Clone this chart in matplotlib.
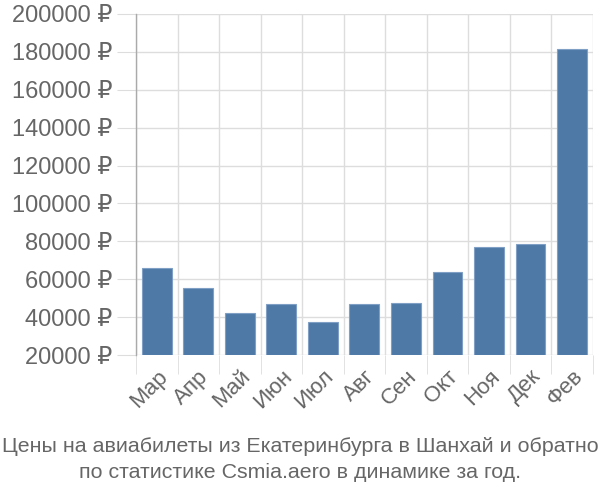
import numpy as np
import matplotlib.pyplot as plt

plt.rcParams['font.family'] = ['Liberation Sans', 'DejaVu Sans']

# Data
months = ["Мар", "Апр", "Май", "Июн", "Июл", "Авг", "Сен", "Окт", "Ноя", "Дек", "Фев"]
prices = [65700, 55300, 42300, 47000, 37400, 47000, 47600, 63600, 77100, 78600, 181400]
y_ticks = [20000, 40000, 60000, 80000, 100000, 120000, 140000, 160000, 180000, 200000]
caption = ["Цены на авиабилеты из Екатеринбурга в Шанхай и обратно",
           "по статистике Csmia.aero в динамике за год."]

text_col = "#666666"
grid_col = "#dddddd"

fig = plt.figure(figsize=(6, 5), dpi=100)
ax = fig.add_axes([0.2267, 0.29, 0.7613, 0.682])

x = np.arange(len(months))
ax.bar(x, np.array(prices) - y_ticks[0], bottom=y_ticks[0], width=0.72,
       color="#4e79a7", edgecolor="#7f9fc4", linewidth=0.8, zorder=3)

# Axes limits and ticks
ax.set_xlim(-0.5, len(months) - 0.5)
ax.set_ylim(y_ticks[0], y_ticks[-1])
ax.set_yticks(y_ticks)
ax.set_yticklabels([f"{v} ₽" for v in y_ticks])
ax.set_xticks(x)
ax.set_xticklabels(months, rotation=45, ha="right", rotation_mode="anchor")
ax.set_xticks(np.arange(-0.5, len(months)), minor=True)

ax.tick_params(axis="y", length=14, color=grid_col, labelsize=17,
               labelcolor=text_col, pad=3)
ax.tick_params(axis="x", which="major", length=0, labelsize=16,
               labelcolor=text_col, pad=8)
ax.tick_params(axis="x", which="minor", length=14, color=grid_col)

# Grid
ax.grid(axis="y", color=grid_col, linewidth=1, zorder=0)
ax.grid(axis="x", which="minor", color=grid_col, linewidth=1, zorder=0)
ax.grid(axis="x", which="major", visible=False)

for side in ["top", "right", "bottom"]:
    ax.spines[side].set_visible(False)
ax.spines["left"].set_color("#aaaaaa")
ax.spines["left"].set_linewidth(1)

# Caption
fig.text(0.5, 1 - 447 / 500, caption[0], ha="center", va="center",
         fontsize=15.4, color=text_col)
fig.text(0.5, 1 - 473 / 500, caption[1], ha="center", va="center",
         fontsize=15.4, color=text_col)

fig.savefig("out.png", dpi=100)
